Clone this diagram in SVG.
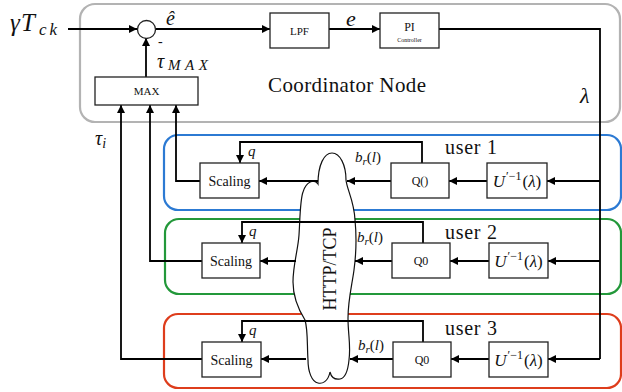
<svg xmlns="http://www.w3.org/2000/svg" width="622" height="392" viewBox="0 0 622 392">
  <style>
    .box { fill: #fff; stroke: #222; stroke-width: 1.3; }
    .wire { fill: none; stroke: #000; stroke-width: 1.8; }
    .t { font-family: "Liberation Serif", "Times New Roman", serif; fill: #111; }
    .m { font-family: "Liberation Serif", "Times New Roman", serif; font-style: italic; fill: #111; }
    .grp { fill: none; stroke-width: 2.2; }
  </style>
  <defs>
    <marker id="arr" viewBox="0 0 10 10" refX="10" refY="5" markerUnits="userSpaceOnUse" markerWidth="10" markerHeight="8" orient="auto">
      <path d="M0,0 L10,5 L0,10 z" fill="#000"/>
    </marker>
  </defs>

  <rect width="622" height="392" fill="#fff"/>

  <!-- group frames -->
  <g id="coordinator">
    <rect class="grp" x="80" y="4" width="540" height="118" rx="15" stroke="#b3b3b3"/>
    <text class="t" x="268" y="92" font-size="21" textLength="158">Coordinator Node</text>
  </g>
  <g id="user1">
    <rect class="grp" x="164" y="135" width="457" height="75" rx="14" stroke="#2c7ad3"/>
    <text class="t" x="445" y="154" font-size="20" textLength="52">user 1</text>
  </g>
  <g id="user2">
    <rect class="grp" x="165" y="219" width="456" height="75" rx="14" stroke="#23983a"/>
    <text class="t" x="445" y="239" font-size="20" textLength="52">user 2</text>
  </g>
  <g id="user3">
    <rect class="grp" x="164" y="314" width="457" height="74" rx="14" stroke="#de3d1c"/>
    <text class="t" x="445" y="335" font-size="20" textLength="52">user 3</text>
  </g>

  <!-- network cloud -->
  <g id="network">
    <path d="M318,184 C318,165 324,153 332,153 C340,153 346,165 346,180 C347,190 354,200 355,220 C357,240 356,255 354,270 C352,285 348,300 348,318 C348,335 351,345 349,360 C348,370 346,378 340,379 C334,380 331,376 330,372 C328,382 322,384 318,383 C312,382 308,372 308,360 C307,345 308,330 305,320 C300,312 293,300 293,282 C293,265 298,250 299,235 C300,220 300,200 303,192 C306,182 314,178 318,184 Z" fill="#fff" stroke="#111" stroke-width="1.2"/>
    <text class="t" font-size="18" text-anchor="middle" transform="translate(336,269) rotate(-90)">HTTP/TCP</text>
  </g>

  <!-- connectors -->
  <g id="connectors" class="wire">
    <path d="M68,29 H137" marker-end="url(#arr)"/>
    <path d="M156,29 H270" marker-end="url(#arr)"/>
    <path d="M329,29 H380" marker-end="url(#arr)"/>
    <path d="M439,29 H600 V359"/>
    <path d="M146,77 V38" marker-end="url(#arr)"/>

    <path d="M600,181 H547" marker-end="url(#arr)"/>
    <path d="M487,181 H449" marker-end="url(#arr)"/>
    <path d="M391,181 H347" marker-end="url(#arr)"/>
    <path d="M422,163 V142 H240 V163" marker-end="url(#arr)"/>
    <path d="M318,181 H259" marker-end="url(#arr)"/>
    <path d="M200,181 H176 V105" marker-end="url(#arr)"/>

    <path d="M600,261 H548" marker-end="url(#arr)"/>
    <path d="M489,261 H450" marker-end="url(#arr)"/>
    <path d="M392,261 H355" marker-end="url(#arr)"/>
    <path d="M423,243 V222 H242 V243" marker-end="url(#arr)"/>
    <path d="M296,261 H260" marker-end="url(#arr)"/>
    <path d="M202,261 H150 V105" marker-end="url(#arr)"/>

    <path d="M600,359 H548" marker-end="url(#arr)"/>
    <path d="M489,359 H451" marker-end="url(#arr)"/>
    <path d="M393,359 H350" marker-end="url(#arr)"/>
    <path d="M423,342 V321 H242 V342" marker-end="url(#arr)"/>
    <path d="M306,359 H261" marker-end="url(#arr)"/>
    <path d="M202,359 H121 V105" marker-end="url(#arr)"/>
  </g>

  <!-- coordinator blocks -->
  <g id="sum">
    <circle cx="146.5" cy="29.5" r="9" fill="#fff" stroke="#222" stroke-width="1.3"/>
    <text class="t" x="158" y="46" font-size="14">-</text>
  </g>
  <g id="lpf">
    <rect class="box" x="270" y="13" width="59" height="35"/>
    <text class="t" x="299.5" y="34.5" font-size="11" text-anchor="middle">LPF</text>
  </g>
  <g id="pi">
    <rect class="box" x="380" y="13" width="59" height="35"/>
    <text class="t" x="409.5" y="31" font-size="12" text-anchor="middle">PI</text>
    <text class="t" x="409.5" y="42" font-size="6" text-anchor="middle">Controller</text>
  </g>
  <g id="max">
    <rect class="box" x="95" y="77" width="103" height="28"/>
    <text class="t" x="146.5" y="95" font-size="11" text-anchor="middle">MAX</text>
  </g>

  <!-- user 1 blocks -->
  <g id="scaling1">
    <rect class="box" x="200" y="163" width="59" height="35"/>
    <text class="t" x="229.5" y="185.5" font-size="14" text-anchor="middle">Scaling</text>
  </g>
  <g id="q1">
    <rect class="box" x="391" y="163" width="58" height="35"/>
    <text class="t" x="420" y="185" font-size="12" text-anchor="middle">Q()</text>
  </g>
  <g id="u1">
    <rect class="box" x="487" y="163" width="60" height="35"/>
    <text class="m" x="517" y="187" font-size="17" text-anchor="middle">U<tspan font-size="12" font-style="normal" dx="1" dy="-7">′−1</tspan><tspan font-style="normal" dx="1" dy="7">(</tspan>λ<tspan font-style="normal">)</tspan></text>
  </g>

  <!-- user 2 blocks -->
  <g id="scaling2">
    <rect class="box" x="202" y="243" width="58" height="35"/>
    <text class="t" x="231" y="265.5" font-size="14" text-anchor="middle">Scaling</text>
  </g>
  <g id="q2">
    <rect class="box" x="392" y="243" width="58" height="35"/>
    <text class="t" x="421" y="265" font-size="12" text-anchor="middle">Q0</text>
  </g>
  <g id="u2">
    <rect class="box" x="489" y="243" width="59" height="35"/>
    <text class="m" x="518.5" y="267" font-size="17" text-anchor="middle">U<tspan font-size="12" font-style="normal" dx="1" dy="-7">′−1</tspan><tspan font-style="normal" dx="1" dy="7">(</tspan>λ<tspan font-style="normal">)</tspan></text>
  </g>

  <!-- user 3 blocks -->
  <g id="scaling3">
    <rect class="box" x="202" y="342" width="59" height="35"/>
    <text class="t" x="231.5" y="364.5" font-size="14" text-anchor="middle">Scaling</text>
  </g>
  <g id="q3">
    <rect class="box" x="393" y="342" width="58" height="35"/>
    <text class="t" x="422" y="364" font-size="12" text-anchor="middle">Q0</text>
  </g>
  <g id="u3">
    <rect class="box" x="489" y="342" width="59" height="35"/>
    <text class="m" x="518.5" y="366" font-size="17" text-anchor="middle">U<tspan font-size="12" font-style="normal" dx="1" dy="-7">′−1</tspan><tspan font-style="normal" dx="1" dy="7">(</tspan>λ<tspan font-style="normal">)</tspan></text>
  </g>

  <!-- signal labels -->
  <g id="labels">
    <text class="m" x="10" y="31" font-size="25">γ<tspan x="21">T</tspan><tspan x="39" y="35" font-size="17" textLength="18">ck</tspan></text>
    <text class="m" x="166" y="25" font-size="20">ê</text>
    <text class="m" x="346" y="26" font-size="22">e</text>
    <text class="m" x="157" y="68" font-size="20">τ<tspan x="168" y="70" font-size="15" textLength="40">MAX</tspan></text>
    <text class="m" x="580" y="103" font-size="22">λ</text>
    <text class="m" x="95" y="145" font-size="20">τ<tspan font-size="14" dy="3">i</tspan></text>
    <text class="m" x="248" y="156" font-size="15">q</text>
    <text class="m" x="249" y="236" font-size="15">q</text>
    <text class="m" x="249" y="335" font-size="15">q</text>
    <text class="m" x="355" y="162" font-size="15">b<tspan font-size="11" dy="3">r</tspan><tspan font-style="normal" dy="-3">(</tspan>l<tspan font-style="normal">)</tspan></text>
    <text class="m" x="357" y="242" font-size="15">b<tspan font-size="11" dy="3">r</tspan><tspan font-style="normal" dy="-3">(</tspan>l<tspan font-style="normal">)</tspan></text>
    <text class="m" x="358" y="350" font-size="15">b<tspan font-size="11" dy="3">r</tspan><tspan font-style="normal" dy="-3">(</tspan>l<tspan font-style="normal">)</tspan></text>
  </g>
</svg>
